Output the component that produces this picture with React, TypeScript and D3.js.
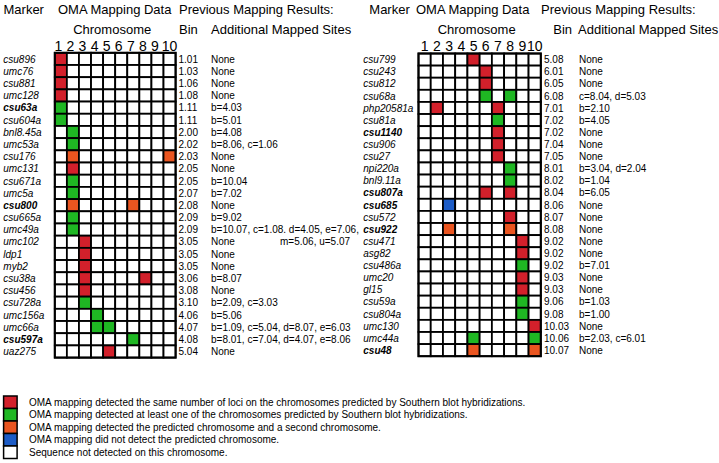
import React from "react";
import * as d3 from "d3";

// ---------- DATA ----------
const chromosomes = ["1", "2", "3", "4", "5", "6", "7", "8", "9", "10"];

const leftMarkers = ["csu896", "umc76", "csu881", "umc128", "csu63a", "csu604a", "bnl8.45a", "umc53a", "csu176", "umc131", "csu671a", "umc5a", "csu800", "csu665a", "umc49a", "umc102", "ldp1", "myb2", "csu38a", "csu456", "csu728a", "umc156a", "umc66a", "csu597a", "uaz275"];
const leftBold = ["csu63a", "csu800", "csu597a"];
// r = same number of loci, g = at least one, o = predicted + second, b = not predicted, . = none
const leftCells = [
  "r.........", "r.........", "r.........", "r.........", "g.........", "g.........",
  ".g........", ".g........", ".o.......o", ".r........", ".g........", ".g........",
  ".o....o...", ".g........", ".g........", "..r.......", "..r.......", "..r.......",
  "..r....r..", "..r.......", "..g.......", "...g......", "...gg.....", "......g...",
  "....r.....",
];
const leftBins = ["1.01", "1.03", "1.06", "1.08", "1.11", "1.11", "2.00", "2.02", "2.03", "2.05", "2.05", "2.07", "2.08", "2.09", "2.09", "3.05", "3.05", "3.05", "3.06", "3.08", "3.10", "4.06", "4.07", "4.08", "5.04"];
const leftSites = ["None", "None", "None", "None", "b=4.03", "b=5.01", "b=4.08", "b=8.06, c=1.06", "None", "None", "b=10.04", "b=7.02", "None", "b=9.02", "b=10.07, c=1.08. d=4.05, e=7.06,", "None", "None", "None", "b=8.07", "None", "b=2.09, c=3.03", "b=5.06", "b=1.09, c=5.04, d=8.07, e=6.03", "b=8.01, c=7.04, d=4.07, e=8.06", "None"];
const leftSitesContinued = [{ row: 15, text: "m=5.06, u=5.07" }];

const rightMarkers = ["csu799", "csu243", "csu812", "csu68a", "php20581a", "csu81a", "csu1140", "csu906", "csu27", "npi220a", "bnl9.11a", "csu807a", "csu685", "csu572", "csu922", "csu471", "asg82", "csu486a", "umc20", "gl15", "csu59a", "csu804a", "umc130", "umc44a", "csu48"];
const rightBold = ["csu1140", "csu807a", "csu685", "csu922", "csu48"];
const rightCells = [
  "....r.....", ".....r....", ".....r....", ".....g.g..", ".r....r...", "......g...",
  "......r...", "......r...", "......r...", ".......g..", ".......g..", ".....r.r..",
  "..b.......", ".......r..", "..o....o..", "........r.", "........r.", "........g.",
  "........r.", "........r.", "........g.", "........g.", ".........r", "....g....g",
  "....o....o",
];
const rightBins = ["5.08", "6.01", "6.05", "6.08", "7.01", "7.02", "7.02", "7.04", "7.05", "8.01", "8.02", "8.04", "8.06", "8.07", "8.08", "9.02", "9.02", "9.02", "9.03", "9.03", "9.06", "9.08", "10.03", "10.06", "10.07"];
const rightSites = ["None", "None", "None", "c=8.04, d=5.03", "b=2.10", "b=4.05", "None", "None", "None", "b=3.04, d=2.04", "b=1.04", "b=6.05", "None", "None", "None", "None", "None", "b=7.01", "None", "None", "b=1.03", "b=1.00", "None", "b=2.03, c=6.01", "None"];

const legendKeys = ["r", "g", "o", "b", "."];
const legendLabels = [
  "OMA mapping detected the same number of loci on the chromosomes predicted by Southern blot hybridizations.",
  "OMA mapping detected at least one of the chromosomes predicted by Southern blot hybridizations.",
  "OMA mapping detected the predicted chromosome and a second chromosome.",
  "OMA mapping did not detect the predicted chromosome.",
  "Sequence not detected on this chromosome.",
];

// ---------- STYLE ----------
const colorMap: Record<string, string> = {
  r: "#d2202b",
  g: "#1fb723",
  o: "#ea5520",
  b: "#1d5cc6",
  ".": "#ffffff",
};
const FONT = "'Liberation Sans', Arial, Helvetica, sans-serif";

type PanelProps = {
  markers: string[];
  bold: string[];
  cells: string[];
  bins: string[];
  sites: string[];
  cont: { row: number; text: string }[];
  markerX: number;
  gridX0: number;
  gridX1: number;
  gridY0: number;
  gridY1: number;
  binX: number;
  sitesX: number;
  headerMarkerX: number;
  headerOmaX: number;
  headerPrevX: number;
  headerBinX: number;
  headerSitesX: number;
  numShift: number;
};

function Panel(p: PanelProps) {
  const x = d3.scaleBand<string>().domain(chromosomes).range([p.gridX0, p.gridX1]).padding(0);
  const y = d3.scaleBand<string>().domain(p.markers).range([p.gridY0, p.gridY1]).padding(0);
  const cw = x.bandwidth();
  const rh = y.bandwidth();
  const base = (i: number) => (y(p.markers[i]) as number) + rh / 2 + 3.7;
  return (
    <g>
      {/* headers */}
      <text x={p.headerMarkerX} y={13.5} fontSize={13}>Marker</text>
      <text x={p.headerOmaX} y={13.5} fontSize={13}>OMA Mapping Data</text>
      <text x={p.headerPrevX} y={13.5} fontSize={13}>Previous Mapping Results:</text>
      <text x={(p.gridX0 + p.gridX1) / 2 - 3} y={33.5} fontSize={13} textAnchor="middle">Chromosome</text>
      <text x={p.headerBinX} y={33.5} fontSize={13}>Bin</text>
      <text x={p.headerSitesX} y={33.5} fontSize={13}>Additional Mapped Sites</text>
      {chromosomes.map((c, i) => (
        <text key={c} x={(x(c) as number) + cw / 2 + (i < 9 ? p.numShift : 0)} y={50.5} fontSize={14} textAnchor="middle">{c}</text>
      ))}
      {/* cells */}
      {p.cells.map((row, ri) =>
        chromosomes.map((c, ci) => (
          <rect key={ri + "-" + ci} x={x(c) as number} y={y(p.markers[ri]) as number} width={cw} height={rh}
            fill={colorMap[row[ci]]} stroke="#000" strokeWidth={1.8} />
        ))
      )}
      <rect x={p.gridX0} y={p.gridY0} width={p.gridX1 - p.gridX0} height={p.gridY1 - p.gridY0} fill="none" stroke="#000" strokeWidth={2} />
      {/* text columns */}
      {p.markers.map((m, i) => (
        <text key={m} x={p.markerX} y={base(i)} fontSize={10} fontStyle="italic" fontWeight={p.bold.includes(m) ? "bold" : "normal"}>{m}</text>
      ))}
      {p.bins.map((b, i) => (
        <text key={"b" + i} x={p.binX} y={base(i)} fontSize={10}>{b}</text>
      ))}
      {p.sites.map((s, i) => (
        <text key={"s" + i} x={p.sitesX} y={base(i)} fontSize={10}>{s}</text>
      ))}
      {p.cont.map((c, i) => (
        <text key={"c" + i} x={p.sitesX + 69} y={base(c.row)} fontSize={10}>{c.text}</text>
      ))}
    </g>
  );
}

export default function App() {
  const ly = d3.scaleBand<string>().domain(legendKeys).range([396, 458.5]).padding(0);
  return (
    <svg width={719} height={463} style={{ position: "absolute", left: 0, top: 0, background: "#fff" }} fontFamily={FONT}>
      <rect width={719} height={463} fill="#fff" />
      <Panel markers={leftMarkers} bold={leftBold} cells={leftCells} bins={leftBins} sites={leftSites} cont={leftSitesContinued}
        markerX={3.3} gridX0={54.8} gridX1={175.6} gridY0={52.8} gridY1={357.6} binX={178.5} sitesX={211}
        headerMarkerX={3.5} headerOmaX={58} headerPrevX={179} headerBinX={179} headerSitesX={211} numShift={-2.5} />
      <Panel markers={rightMarkers} bold={rightBold} cells={rightCells} bins={rightBins} sites={rightSites} cont={[]}
        markerX={363.3} gridX0={418.5} gridX1={540.8} gridY0={53.5} gridY1={356.2} binX={544} sitesX={579}
        headerMarkerX={369.3} headerOmaX={416} headerPrevX={541} headerBinX={553.3} headerSitesX={578} numShift={0} />
      {/* legend */}
      {legendKeys.map((k, i) => (
        <g key={k}>
          <rect x={3.6} y={ly(k) as number} width={13.5} height={ly.bandwidth()} fill={colorMap[k]} stroke="#000" strokeWidth={1.5} />
          <text x={29} y={(ly(k) as number) + ly.bandwidth() / 2 + 3.6} fontSize={10}>{legendLabels[i]}</text>
        </g>
      ))}
    </svg>
  );
}
